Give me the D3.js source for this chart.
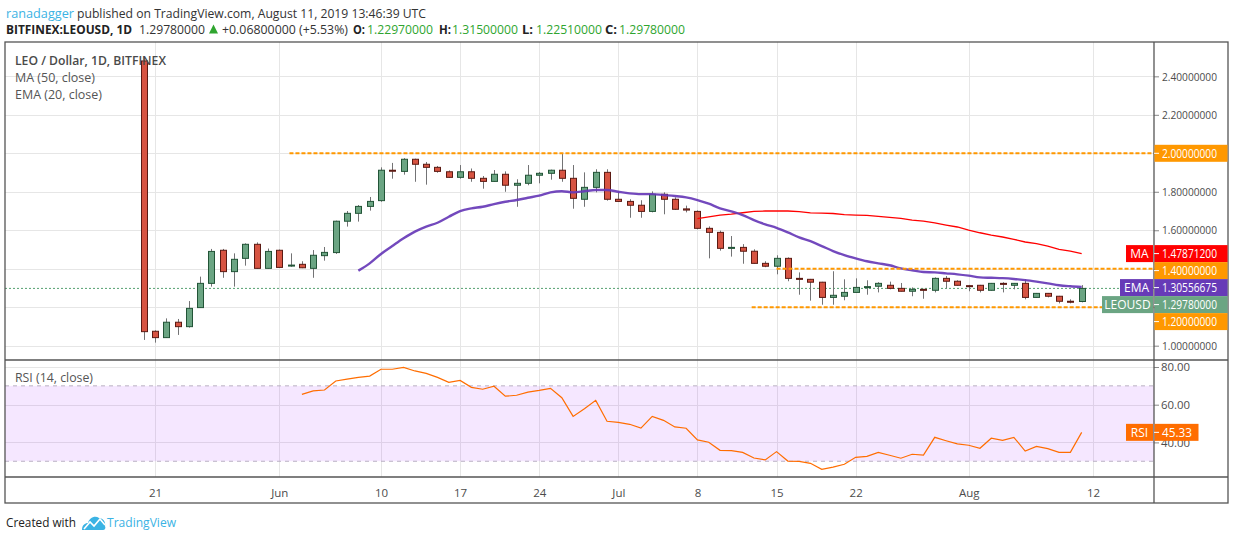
<!DOCTYPE html>
<html>
<head>
<meta charset="utf-8">
<script src="https://cdn.jsdelivr.net/npm/d3@7"></script>
<style>
    html, body { margin: 0; padding: 0; background: #fff; }
    svg { display: block; font-family: "Open Sans", "Liberation Sans", sans-serif; }
</style>
</head>
<body>
<svg id="chart" width="1234" height="540"></svg>
<script>
// ---- data ----
const firstDay = Date.UTC(2019, 4, 20); // May 20, 2019, one candle per day

const open = [2.48, 1.075, 1.042, 1.122, 1.099, 1.198, 1.324, 1.496, 1.385, 1.454, 1.527, 1.402,
    1.496, 1.415, 1.423, 1.402, 1.468, 1.484, 1.647, 1.688, 1.724, 1.754, 1.912, 1.906, 1.969, 1.943,
    1.927, 1.904, 1.875, 1.904, 1.870, 1.854, 1.891, 1.834, 1.844, 1.886, 1.896, 1.912, 1.870, 1.761,
    1.823, 1.901, 1.761, 1.750, 1.730, 1.698, 1.787, 1.761, 1.711, 1.698, 1.610, 1.589, 1.507, 1.511,
    1.491, 1.428, 1.413, 1.454, 1.350, 1.345, 1.330, 1.251, 1.257, 1.277, 1.303, 1.309, 1.314, 1.298,
    1.283, 1.293, 1.288, 1.350, 1.335, 1.312, 1.314, 1.288, 1.324, 1.314, 1.324, 1.251, 1.272, 1.257,
    1.231, 1.2297];
const high = [2.50, 1.08, 1.142, 1.139, 1.232, 1.359, 1.503, 1.503, 1.480, 1.532, 1.537, 1.505,
    1.500, 1.480, 1.439, 1.497, 1.513, 1.650, 1.700, 1.731, 1.773, 1.927, 1.950, 1.975, 1.972, 1.955,
    1.934, 1.911, 1.939, 1.921, 1.882, 1.913, 1.906, 1.865, 1.939, 1.903, 1.915, 2.000, 1.939, 1.901,
    1.917, 1.917, 1.800, 1.761, 1.756, 1.802, 1.797, 1.771, 1.728, 1.703, 1.620, 1.598, 1.570, 1.528,
    1.501, 1.439, 1.470, 1.459, 1.381, 1.347, 1.332, 1.387, 1.345, 1.350, 1.340, 1.330, 1.333, 1.326,
    1.303, 1.295, 1.355, 1.362, 1.340, 1.316, 1.316, 1.326, 1.330, 1.326, 1.345, 1.274, 1.274, 1.259,
    1.241, 1.315];
const low = [1.03, 1.016, 1.040, 1.056, 1.094, 1.196, 1.307, 1.353, 1.307, 1.416, 1.400, 1.400,
    1.405, 1.410, 1.403, 1.353, 1.442, 1.477, 1.619, 1.645, 1.702, 1.748, 1.868, 1.889, 1.852, 1.837,
    1.899, 1.872, 1.868, 1.852, 1.816, 1.852, 1.800, 1.722, 1.834, 1.844, 1.863, 1.852, 1.712, 1.722,
    1.797, 1.754, 1.747, 1.665, 1.665, 1.693, 1.683, 1.706, 1.693, 1.605, 1.454, 1.494, 1.463, 1.426,
    1.426, 1.408, 1.371, 1.335, 1.265, 1.234, 1.213, 1.213, 1.236, 1.276, 1.265, 1.277, 1.293, 1.282,
    1.257, 1.244, 1.277, 1.298, 1.312, 1.283, 1.277, 1.286, 1.277, 1.293, 1.241, 1.249, 1.251, 1.220,
    1.220, 1.2251];
const close = [1.073, 1.042, 1.122, 1.099, 1.194, 1.324, 1.490, 1.385, 1.449, 1.527, 1.402, 1.490,
    1.407, 1.419, 1.405, 1.470, 1.485, 1.647, 1.688, 1.724, 1.750, 1.912, 1.908, 1.969, 1.943, 1.927,
    1.906, 1.875, 1.904, 1.870, 1.854, 1.891, 1.834, 1.844, 1.886, 1.896, 1.912, 1.870, 1.766, 1.823,
    1.901, 1.761, 1.750, 1.730, 1.698, 1.787, 1.761, 1.709, 1.705, 1.610, 1.589, 1.506, 1.511, 1.491,
    1.428, 1.413, 1.454, 1.350, 1.345, 1.330, 1.251, 1.262, 1.277, 1.303, 1.307, 1.324, 1.298, 1.283,
    1.293, 1.289, 1.350, 1.335, 1.314, 1.308, 1.288, 1.324, 1.320, 1.324, 1.251, 1.272, 1.257, 1.231,
    1.2298, 1.2978];

// EMA (20) starts on candle 19 (Jun 8)
const emaStart = 19;
const ema20 = [1.390, 1.428, 1.477, 1.518, 1.558, 1.593, 1.619, 1.639, 1.670, 1.700, 1.714, 1.722,
    1.736, 1.748, 1.757, 1.769, 1.780, 1.797, 1.803, 1.797, 1.803, 1.809, 1.809, 1.800, 1.792, 1.788,
    1.788, 1.783, 1.778, 1.771, 1.757, 1.738, 1.714, 1.698, 1.679, 1.653, 1.631, 1.613, 1.589, 1.563,
    1.543, 1.518, 1.492, 1.471, 1.454, 1.439, 1.428, 1.418, 1.402, 1.392, 1.383, 1.381, 1.376, 1.371,
    1.364, 1.355, 1.353, 1.351, 1.347, 1.341, 1.333, 1.324, 1.314, 1.309, 1.30556675];

// MA (50) starts on candle 49 (Jul 8)
const maStart = 49;
const ma50 = [1.660, 1.670, 1.679, 1.684, 1.691, 1.698, 1.700, 1.700, 1.700, 1.697, 1.690, 1.689,
    1.687, 1.681, 1.679, 1.677, 1.672, 1.667, 1.662, 1.653, 1.647, 1.638, 1.627, 1.617, 1.601, 1.587,
    1.575, 1.565, 1.553, 1.539, 1.530, 1.518, 1.501, 1.491, 1.478712];

// RSI (14) starts on candle 14 (Jun 3)
const rsiStart = 14;
const rsi14 = [65.5, 67.3, 67.8, 72.6, 73.6, 74.5, 75.2, 78.8, 78.8, 79.8, 77.9, 76.6, 74.5, 71.9,
    72.9, 69.2, 68.2, 69.8, 64.5, 65.0, 66.7, 67.6, 68.7, 63.7, 53.8, 57.9, 62.3, 51.2,
    50.6, 49.6, 47.6, 53.8, 51.7, 48.2, 47.5, 41.3, 40.1, 35.8, 35.6, 34.7, 31.7, 30.7, 35.1, 30.1,
    29.9, 28.9, 25.7, 26.9, 28.4, 32.1, 32.6, 34.7, 33.2, 31.6, 33.7, 33.3, 42.7, 40.9, 39.2,
    38.5, 36.9, 42.2, 41.1, 42.7, 35.4, 37.9, 36.7, 34.7, 34.7, 45.33];

// horizontal levels drawn by the author, and the candle offset where each begins
const levels = [2.0, 1.4, 1.2];
const levelFrom = [12.9, 56.0, 53.8];

const priceTicks = [1.0, 1.2, 1.4, 1.6, 1.8, 2.0, 2.2, 2.4];
const rsiTicks = [40, 60, 80];
const rsiBand = [30, 70];
const dateTicks = ['2019-05-21', '2019-06-01', '2019-06-10', '2019-06-17', '2019-06-24', '2019-07-01',
    '2019-07-08', '2019-07-15', '2019-07-22', '2019-08-01', '2019-08-12'];

// ---- layout ----
const L = 5, R = 1154, RIGHT = 1228, TOP = 42, MID = 360, XAX = 477, BOT = 503;
const DAY = 864e5;
const dayAt = n => new Date(firstDay + n * DAY);

const svg = d3.select('#chart');
svg.append('rect').attr('width', 1234).attr('height', 540).attr('fill', '#fff');

const x = d3.scaleUtc().domain([dayAt(-12.27), dayAt(89.4)]).range([L, R]);
const y = d3.scaleLinear().domain([1, 2]).range([345.7, 153.3]);
const yr = d3.scaleLinear().domain([40, 80]).range([442.4, 367]);

const defs = svg.append('defs');
defs.append('clipPath').attr('id', 'clipMain')
    .append('rect').attr('x', L).attr('y', TOP).attr('width', R - L).attr('height', MID - TOP);
defs.append('clipPath').attr('id', 'clipRsi')
    .append('rect').attr('x', L).attr('y', MID).attr('width', R - L).attr('height', XAX - MID);

const candles = open.map((o, i) => ({ date: dayAt(i), o: o, h: high[i], l: low[i], c: close[i] }));
const emaData = ema20.map((v, i) => ({ date: dayAt(emaStart + i), v: v }));
const maData = ma50.map((v, i) => ({ date: dayAt(maStart + i), v: v }));
const rsiData = rsi14.map((v, i) => ({ date: dayAt(rsiStart + i), v: v }));
const tickDates = dateTicks.map(s => new Date(s + 'T00:00:00Z'));

// ---- grid ----
const grid = svg.append('g').attr('stroke', '#e6e6e6').attr('stroke-width', 1);
grid.selectAll('line.v').data(tickDates).join('line')
    .attr('x1', d => Math.round(x(d)) + 0.5).attr('x2', d => Math.round(x(d)) + 0.5)
    .attr('y1', TOP).attr('y2', XAX);
grid.selectAll('line.hp').data(priceTicks).join('line')
    .attr('x1', L).attr('x2', R)
    .attr('y1', d => Math.round(y(d)) + 0.5).attr('y2', d => Math.round(y(d)) + 0.5);
grid.selectAll('line.hr').data(rsiTicks).join('line')
    .attr('x1', L).attr('x2', R)
    .attr('y1', d => Math.round(yr(d)) + 0.5).attr('y2', d => Math.round(yr(d)) + 0.5);

// ---- RSI pane ----
const gRsi = svg.append('g').attr('clip-path', 'url(#clipRsi)');
gRsi.append('rect')
    .attr('x', L).attr('width', R - L)
    .attr('y', yr(rsiBand[1])).attr('height', yr(rsiBand[0]) - yr(rsiBand[1]))
    .attr('fill', 'rgba(153, 21, 255, 0.1)');
gRsi.selectAll('line.band').data(rsiBand).join('line')
    .attr('x1', L).attr('x2', R)
    .attr('y1', d => yr(d)).attr('y2', d => yr(d))
    .attr('stroke', '#b9b0c3').attr('stroke-dasharray', '4,4');
gRsi.append('path')
    .datum(rsiData)
    .attr('fill', 'none')
    .attr('stroke', '#ff6d00')
    .attr('stroke-width', 1.2)
    .attr('d', d3.line().x(d => x(d.date)).y(d => yr(d.v)));

// ---- price pane ----
const gMain = svg.append('g').attr('clip-path', 'url(#clipMain)');

// last price dotted line
gMain.append('line')
    .attr('x1', L).attr('x2', R)
    .attr('y1', y(close[close.length - 1])).attr('y2', y(close[close.length - 1]))
    .attr('stroke', '#53a06f').attr('stroke-dasharray', '2,2');

// candles
const cw = 6;
const cg = gMain.selectAll('g.candle').data(candles).join('g');
cg.append('line')
    .attr('x1', d => Math.round(x(d.date)) + 0.5).attr('x2', d => Math.round(x(d.date)) + 0.5)
    .attr('y1', d => y(d.h)).attr('y2', d => y(d.l))
    .attr('stroke', '#737375').attr('stroke-width', 1);
cg.append('rect')
    .attr('x', d => Math.round(x(d.date)) - cw / 2 + 0.5)
    .attr('width', cw)
    .attr('y', d => y(Math.max(d.o, d.c)))
    .attr('height', d => Math.max(1, Math.abs(y(d.o) - y(d.c))))
    .attr('fill', d => d.c >= d.o ? '#6ba583' : '#d75442')
    .attr('stroke', d => d.c >= d.o ? '#225437' : '#5b1a13')
    .attr('stroke-width', 1);

// MA (50) and EMA (20)
gMain.append('path')
    .datum(maData)
    .attr('fill', 'none')
    .attr('stroke', '#ff0000')
    .attr('stroke-width', 1.3)
    .attr('d', d3.line().x(d => x(d.date)).y(d => y(d.v)));
gMain.append('path')
    .datum(emaData)
    .attr('fill', 'none')
    .attr('stroke', '#673ab7')
    .attr('stroke-width', 2.4)
    .attr('stroke-opacity', 0.92)
    .attr('d', d3.line().curve(d3.curveMonotoneX).x(d => x(d.date)).y(d => y(d.v)));

// author's horizontal levels
gMain.selectAll('line.level').data(levels).join('line')
    .attr('x1', (d, i) => x(dayAt(levelFrom[i]))).attr('x2', R)
    .attr('y1', d => y(d)).attr('y2', d => y(d))
    .attr('stroke', '#ff9800').attr('stroke-width', 2).attr('stroke-dasharray', '4,2');

// pane legends
const legend = svg.append('g').attr('fill', '#4a4a4a').attr('font-size', 12.5);
legend.append('text').attr('x', 15).attr('y', 65).attr('font-weight', 600)
    .attr('textLength', 151).attr('lengthAdjust', 'spacingAndGlyphs')
    .text('LEO / Dollar, 1D, BITFINEX');
legend.append('text').attr('x', 15).attr('y', 82).attr('fill', '#555')
    .attr('textLength', 80).attr('lengthAdjust', 'spacingAndGlyphs')
    .text('MA (50, close)');
legend.append('text').attr('x', 15).attr('y', 99).attr('fill', '#555')
    .attr('textLength', 87).attr('lengthAdjust', 'spacingAndGlyphs')
    .text('EMA (20, close)');
legend.append('text').attr('x', 15).attr('y', 382).attr('fill', '#555')
    .attr('textLength', 78).attr('lengthAdjust', 'spacingAndGlyphs')
    .text('RSI (14, close)');

// ---- axes ----
// tick labels that sit under a level label are covered in the reference, so they are left out
const priceAxis = svg.append('g')
    .attr('transform', `translate(${R},0)`)
    .call(d3.axisRight(y).tickValues(priceTicks).tickSize(5).tickPadding(3)
        .tickFormat(d => levels.includes(d) ? '' : d3.format('.8f')(d)));
priceAxis.select('.domain').remove();
priceAxis.selectAll('line').attr('stroke', '#888');
priceAxis.selectAll('text')
    .attr('fill', '#4c4c4c').attr('font-size', 11.5)
    .attr('font-family', '"Open Sans", "Liberation Sans", sans-serif')
    .attr('textLength', 55).attr('lengthAdjust', 'spacingAndGlyphs');
priceAxis.selectAll('text').filter(d => levels.includes(d)).remove();

const rsiAxis = svg.append('g')
    .attr('transform', `translate(${R},0)`)
    .call(d3.axisRight(yr).tickValues(rsiTicks).tickFormat(d3.format('.2f')).tickSize(5).tickPadding(2));
rsiAxis.select('.domain').remove();
rsiAxis.selectAll('line').attr('stroke', '#888');
rsiAxis.selectAll('text')
    .attr('fill', '#4c4c4c').attr('font-size', 11.5)
    .attr('font-family', '"Open Sans", "Liberation Sans", sans-serif')
    .attr('textLength', 29).attr('lengthAdjust', 'spacingAndGlyphs');

const timeAxis = svg.append('g')
    .attr('transform', `translate(0,${XAX})`)
    .call(d3.axisBottom(x).tickValues(tickDates).tickSize(0).tickPadding(12)
        .tickFormat(d => d.getUTCDate() === 1 ? d3.utcFormat('%b')(d) : d3.utcFormat('%-d')(d)));
timeAxis.select('.domain').remove();
timeAxis.selectAll('text')
    .attr('fill', '#4c4c4c').attr('font-size', 11.5)
    .attr('font-family', '"Open Sans", "Liberation Sans", sans-serif');

// ---- frame ----
const frame = svg.append('g').attr('stroke', '#555').attr('stroke-width', 1.3).attr('fill', 'none');
frame.append('rect').attr('x', L).attr('y', TOP).attr('width', RIGHT - L).attr('height', BOT - TOP);
frame.append('line').attr('x1', L).attr('x2', RIGHT).attr('y1', MID).attr('y2', MID);
frame.append('line').attr('x1', L).attr('x2', RIGHT).attr('y1', XAX).attr('y2', XAX);
frame.append('line').attr('x1', R).attr('x2', R).attr('y1', TOP).attr('y2', BOT);

// ---- value labels on the price scale ----
const fmt8 = d3.format('.8f');
const priceLabels = [
    { v: levels[0], color: '#ff9800' },
    { v: ma50[ma50.length - 1], color: '#ff0000', tag: 'MA', tagW: 27 },
    { v: levels[1], color: '#ff9800' },
    { v: ema20[ema20.length - 1], color: '#673ab7', tag: 'EMA', tagW: 33 },
    { v: close[close.length - 1], color: '#6ba583', tag: 'LEOUSD', tagW: 51 },
    { v: levels[2], color: '#ff9800' }
];
const LH = 17;
priceLabels.sort((a, b) => y(a.v) - y(b.v));
let prevBottom = -Infinity;
priceLabels.forEach(d => {
    d.cy = Math.max(y(d.v), prevBottom + LH / 2);
    prevBottom = d.cy + LH / 2;
});
const gl = svg.append('g').attr('font-size', 12);
priceLabels.forEach(d => {
    gl.append('rect').attr('x', R + 0.5).attr('y', d.cy - LH / 2).attr('width', RIGHT - R - 1).attr('height', LH)
        .attr('fill', d.color);
    gl.append('line').attr('x1', R).attr('x2', R + 5).attr('y1', d.cy).attr('y2', d.cy).attr('stroke', '#fff');
    gl.append('text').attr('x', R + 8).attr('y', d.cy).attr('dy', '0.36em').attr('fill', '#fff')
        .attr('textLength', 55).attr('lengthAdjust', 'spacingAndGlyphs')
        .text(fmt8(d.v));
    if (d.tag) {
        gl.append('rect').attr('x', R - 1 - d.tagW).attr('y', d.cy - LH / 2).attr('width', d.tagW).attr('height', LH)
            .attr('fill', d.color);
        gl.append('text').attr('x', R - 1 - d.tagW / 2).attr('y', d.cy).attr('dy', '0.36em')
            .attr('text-anchor', 'middle').attr('fill', '#fff').text(d.tag);
    }
});

// RSI label
const rsiLast = rsi14[rsi14.length - 1];
const ry = yr(rsiLast);
gl.append('rect').attr('x', R + 0.5).attr('y', ry - LH / 2).attr('width', 44).attr('height', LH).attr('fill', '#ff6d00');
gl.append('line').attr('x1', R).attr('x2', R + 5).attr('y1', ry).attr('y2', ry).attr('stroke', '#fff');
gl.append('text').attr('x', R + 8).attr('y', ry).attr('dy', '0.36em').attr('fill', '#fff')
    .attr('textLength', 30).attr('lengthAdjust', 'spacingAndGlyphs').text(d3.format('.2f')(rsiLast));
gl.append('rect').attr('x', R - 28).attr('y', ry - LH / 2).attr('width', 27).attr('height', LH).attr('fill', '#ff6d00');
gl.append('text').attr('x', R - 14.5).attr('y', ry).attr('dy', '0.36em').attr('text-anchor', 'middle')
    .attr('fill', '#fff').text('RSI');

// ---- header ----
const head = svg.append('g').attr('font-size', 13);
function seg(x0, y0, len, s, color, bold) {
    head.append('text').attr('x', x0).attr('y', y0)
        .attr('fill', color).attr('font-weight', bold ? 700 : 400)
        .attr('textLength', len).attr('lengthAdjust', 'spacingAndGlyphs')
        .text(s);
}
const up = '#2fa52f';
seg(6, 18, 68, 'ranadagger', '#3bb3e4');
seg(77, 18, 349, 'published on TradingView.com, August 11, 2019 13:46:39 UTC', '#333');
seg(6, 34, 126, 'BITFINEX:LEOUSD, 1D', '#222', true);
seg(139, 34, 66, fmt8(close[close.length - 1]), '#333');
head.append('path').attr('d', 'M209,33.5 L213.5,24.5 L218,33.5 Z').attr('fill', up);
seg(222, 34, 126, '+0.06800000 (+5.53%)', '#333');
seg(353, 34, 12, 'O:', '#222', true);
seg(367, 34, 66, fmt8(open[open.length - 1]), up);
seg(439, 34, 12, 'H:', '#222', true);
seg(452, 34, 66, fmt8(high[high.length - 1]), up);
seg(522, 34, 11, 'L:', '#222', true);
seg(536, 34, 66, fmt8(low[low.length - 1]), up);
seg(605, 34, 12, 'C:', '#222', true);
seg(619, 34, 66, fmt8(close[close.length - 1]), up);

// ---- footer ----
seg(6, 527, 70, 'Created with', '#222');
const logo = svg.append('g');
logo.append('path')
    .attr('d', 'M82,530 C82,525 85,523 88,523 C89,518 95,515 99,518 C103,518 106,522 105,526 C106,528 105,530 103,530 Z')
    .attr('fill', '#3bb3e4');
logo.append('path')
    .attr('d', 'M84,529 L90,522 L94,526 L100,519 L105,525')
    .attr('fill', 'none').attr('stroke', '#fff').attr('stroke-width', 1.6);
seg(107, 527, 69, 'TradingView', '#3bb3e4');
</script>
</body>
</html>
